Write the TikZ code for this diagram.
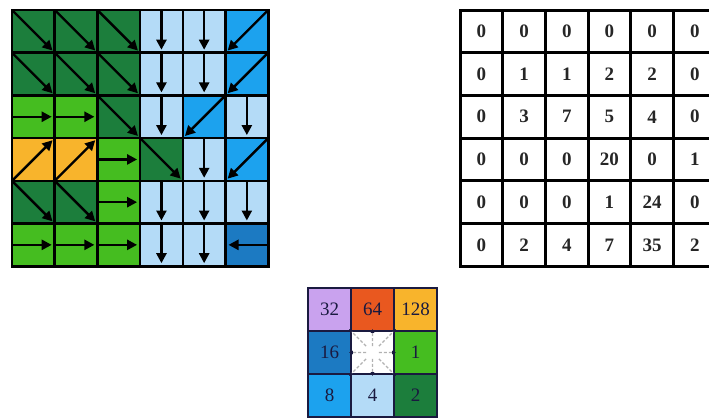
\documentclass[tikz,border=0pt]{standalone}
\usepackage{fontspec}
\setmainfont{Liberation Serif}
\usetikzlibrary{positioning,arrows.meta,calc}
\definecolor{dirSE}{HTML}{1C7E3C}
\definecolor{dirE}{HTML}{45BD20}
\definecolor{dirNE}{HTML}{F8B42C}
\definecolor{dirS}{HTML}{B4DBF7}
\definecolor{dirSW}{HTML}{1CA2EE}
\definecolor{dirW}{HTML}{1C7AC2}
\definecolor{dirNW}{HTML}{C9A2EE}
\definecolor{dirN}{HTML}{E9581F}
\definecolor{ink}{HTML}{1A1A40}

% anchors for the flow arrows
\def\fromSE{north west}\def\toSE{south east}
\def\fromS{north}\def\toS{south}
\def\fromSW{north east}\def\toSW{south west}
\def\fromE{west}\def\toE{east}
\def\fromNE{south west}\def\toNE{north east}
\def\fromW{east}\def\toW{west}

\tikzset{
  flowcell/.style={draw=black, line width=2.6pt, minimum size=42.7pt, inner sep=0pt, outer sep=0pt},
  flowarrow/.style={line width=2.4pt, black, -{Triangle[length=10pt,width=10pt]}, shorten >=3pt},
  acccell/.style={draw=black, line width=3pt, minimum size=42.7pt, inner sep=0pt, outer sep=0pt, font=\fontsize{19}{19}\selectfont\bfseries, text=black!85},
  keycell/.style={draw=ink, line width=1.6pt, minimum size=43pt, inner sep=0pt, outer sep=0pt, text=ink, font=\fontsize{19}{19}\selectfont},
  ray/.style={gray!60, line width=1.3pt, dash pattern=on 3pt off 2pt, -{Latex[length=4pt,width=4pt,color=ink]}}
}

\begin{document}
\begin{tikzpicture}[x=1pt,y=-1pt]
\useasboundingbox (0,0) rectangle (709,418);
\clip (0,0) rectangle (709,418);
\fill[white] (0,0) rectangle (709,418);

% flow direction grid
\foreach \r/\dirs in {1/{SE,SE,SE,S,S,SW},2/{SE,SE,SE,S,S,SW},3/{E,E,SE,S,SW,S},4/{NE,NE,E,SE,S,SW},5/{SE,SE,E,S,S,S},6/{E,E,E,S,S,W}}
  \foreach \d [count=\c] in \dirs
    \node[flowcell, fill=dir\d] (f-\r-\c) at ({12+42.7*(\c-0.5)},{10+42.7*(\r-0.5)}) {};
\foreach \r/\dirs in {1/{SE,SE,SE,S,S,SW},2/{SE,SE,SE,S,S,SW},3/{E,E,SE,S,SW,S},4/{NE,NE,E,SE,S,SW},5/{SE,SE,E,S,S,S},6/{E,E,E,S,S,W}}
  \foreach \d [count=\c] in \dirs {
    \edef\fa{\csname from\d\endcsname}\edef\ta{\csname to\d\endcsname}
    \draw[flowarrow] (f-\r-\c.\fa) -- (f-\r-\c.\ta);
  }

% flow accumulation grid
\foreach \r/\vals in {1/{0,0,0,0,0,0},2/{0,1,1,2,2,0},3/{0,3,7,5,4,0},4/{0,0,0,20,0,1},5/{0,0,0,1,24,0},6/{0,2,4,7,35,2}}
  \foreach \v [count=\c] in \vals
    \node[acccell] (a-\r-\c) at ({460+42.7*(\c-0.5)},{10+42.7*(\r-0.5)}) {\v};

% direction codes
\foreach \v/\col/\r/\c in {32/dirNW/1/1,64/dirN/1/2,128/dirNE/1/3,16/dirW/2/1,1/dirE/2/3,8/dirSW/3/1,4/dirS/3/2,2/dirSE/3/3}
  \node[keycell, fill=\col] (k-\r-\c) at ({308+43*(\c-0.5)},{288+43*(\r-0.5)}) {\v};
\node[keycell, fill=white] (k-2-2) at ({308+43*1.5},{288+43*1.5}) {};
\foreach \a in {0,45,...,315}
  \draw[ray] ($(k-2-2.center)!0.3!(k-2-2.\a)$) -- ($(k-2-2.center)!1.1!(k-2-2.\a)$);
\end{tikzpicture}
\end{document}
